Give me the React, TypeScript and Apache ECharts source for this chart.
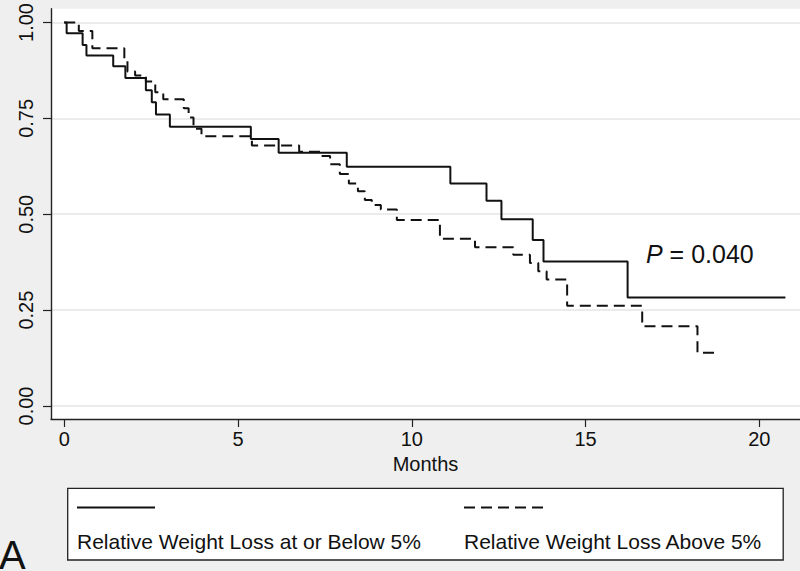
import React, { useEffect, useRef } from "react";
import * as echarts from "echarts";

// Kaplan-Meier step curves (time in months, survival proportion after each drop)
const solidTimes = [0, 0.07, 0.53, 0.64, 1.41, 1.76, 2.35, 2.52, 2.64, 3.04, 5.37, 6.17, 8.13, 11.11, 12.15, 12.58, 13.48, 13.79, 16.21, 20.75];
const solidValues = [1.0, 0.972, 0.941, 0.914, 0.886, 0.855, 0.823, 0.792, 0.76, 0.728, 0.696, 0.66, 0.624, 0.58, 0.535, 0.487, 0.433, 0.377, 0.283, 0.283];

const dashedTimes = [0, 0.42, 0.81, 1.73, 1.82, 2.04, 2.35, 2.62, 2.85, 3.44, 3.58, 3.72, 3.95, 5.4, 6.76, 7.42, 7.65, 7.93, 8.19, 8.45, 8.65, 8.85, 9.11, 9.57, 10.81, 11.82, 12.92, 13.4, 13.64, 13.88, 14.47, 16.63, 18.22, 18.77];
const dashedValues = [1.0, 0.978, 0.933, 0.905, 0.872, 0.862, 0.846, 0.818, 0.8, 0.776, 0.752, 0.723, 0.703, 0.679, 0.663, 0.652, 0.63, 0.605, 0.58, 0.56, 0.537, 0.524, 0.512, 0.485, 0.436, 0.414, 0.394, 0.373, 0.351, 0.33, 0.261, 0.208, 0.139, 0.139];

const seriesNames = ["Relative Weight Loss at or Below 5%", "Relative Weight Loss Above 5%"];
const xTicks = [0, 5, 10, 15, 20];
const yTicks = [0, 0.25, 0.5, 0.75, 1.0];
const xAxisTitle = "Months";
const pValueText = "0.040";
const panelLetter = "A";

const FONT = "Liberation Sans";
const DASH = [11, 6];

export default function App() {
  const ref = useRef<HTMLDivElement>(null);

  useEffect(() => {
    if (!ref.current) return;
    const chart = echarts.init(ref.current, null, { renderer: "svg" });
    const solidData = solidTimes.map((t, i) => [t, solidValues[i]]);
    const dashedData = dashedTimes.map((t, i) => [t, dashedValues[i]]);

    chart.setOption({
      animation: false,
      backgroundColor: "#efefef",
      textStyle: { fontFamily: FONT },
      grid: {
        left: 51,
        right: 0,
        top: 5,
        bottom: 152,
        show: true,
        backgroundColor: "#ffffff",
        borderWidth: 0,
      },
      xAxis: {
        type: "value",
        min: -0.38,
        max: 21.17,
        name: xAxisTitle,
        nameLocation: "middle",
        nameGap: 31,
        nameTextStyle: { fontFamily: FONT, fontSize: 20, color: "#111" },
        axisLine: { show: true, onZero: false, lineStyle: { color: "#222", width: 1.4 } },
        axisTick: { show: true, inside: false, length: 8, customValues: xTicks, lineStyle: { color: "#222", width: 1.2 } },
        axisLabel: {
          customValues: xTicks,
          margin: 10,
          fontFamily: FONT,
          fontSize: 20,
          color: "#111",
        },
        splitLine: { show: false },
      },
      yAxis: {
        type: "value",
        min: -0.034,
        max: 1.036,
        axisLine: { show: true, onZero: false, lineStyle: { color: "#222", width: 1.4 } },
        axisTick: { show: true, inside: false, length: 8, customValues: yTicks, lineStyle: { color: "#222", width: 1.2 } },
        axisLabel: {
          customValues: yTicks,
          rotate: 90,
          margin: 15,
          fontFamily: FONT,
          fontSize: 20,
          color: "#111",
          formatter: (v: number) => v.toFixed(2),
        },
        splitLine: { show: true, lineStyle: { color: "#e4e4e4", width: 1.5 } },
      },
      series: [
        {
          name: seriesNames[0],
          type: "line",
          step: "end",
          data: solidData,
          showSymbol: false,
          symbol: "none",
          lineStyle: { color: "#111", width: 2 },
          z: 3,
        },
        {
          name: seriesNames[1],
          type: "line",
          step: "end",
          data: dashedData,
          showSymbol: false,
          symbol: "none",
          lineStyle: { color: "#111", width: 2, type: DASH },
          z: 3,
        },
      ],
      graphic: [
        {
          type: "rect",
          shape: { x: 67.7, y: 488.3, width: 715.5, height: 71.7 },
          style: { fill: "#ffffff", stroke: "#222", lineWidth: 1.3 },
        },
        {
          type: "line",
          shape: { x1: 77, y1: 507.5, x2: 155, y2: 507.5 },
          style: { stroke: "#111", lineWidth: 2 },
        },
        {
          type: "line",
          shape: { x1: 464, y1: 507.5, x2: 543, y2: 507.5 },
          style: { stroke: "#111", lineWidth: 2, lineDash: DASH },
        },
        {
          type: "text",
          x: 77,
          y: 541,
          style: { text: seriesNames[0], fontFamily: FONT, fontSize: 21, fill: "#111", verticalAlign: "middle" },
        },
        {
          type: "text",
          x: 464,
          y: 541,
          style: { text: seriesNames[1], fontFamily: FONT, fontSize: 21, fill: "#111", verticalAlign: "middle" },
        },
        {
          type: "text",
          x: 646,
          y: 241.5,
          style: {
            text: `{i|P} = ${pValueText}`,
            fontFamily: FONT,
            fontSize: 25,
            fill: "#111",
            verticalAlign: "top",
            rich: {
              i: { fontStyle: "italic", fontFamily: FONT, fontSize: 25, fill: "#111" },
            },
          },
        },
        {
          type: "text",
          x: -1,
          y: 535,
          style: { text: panelLetter, fontFamily: FONT, fontSize: 40, fill: "#111", verticalAlign: "top" },
        },
      ],
    });

    return () => chart.dispose();
  }, []);

  return (
    <div
      ref={ref}
      style={{ position: "fixed", left: 0, top: 0, width: 800, height: 571 }}
    />
  );
}
